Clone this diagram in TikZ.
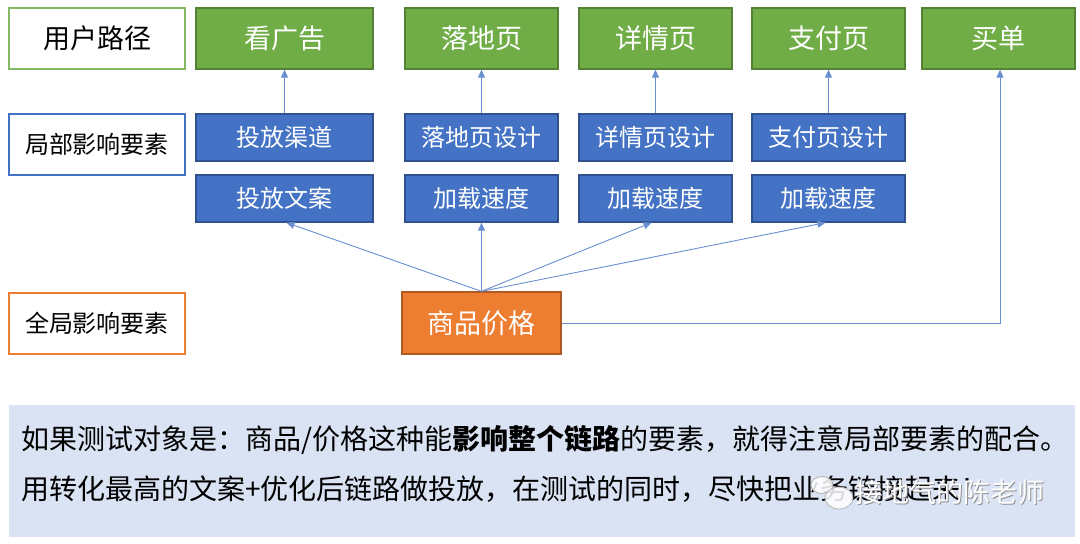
\documentclass[tikz,border=0pt]{standalone}
\usepackage{fontspec}
\setmainfont{Noto Sans CJK SC}
\usetikzlibrary{arrows.meta,shapes.geometric}
\definecolor{gfill}{HTML}{70AD47}
\definecolor{gline}{HTML}{548235}
\definecolor{bfill}{HTML}{4472C4}
\definecolor{bline}{HTML}{2F528F}
\definecolor{ofill}{HTML}{ED7D31}
\definecolor{oline}{HTML}{AE5A21}
\definecolor{conn}{HTML}{6A8FD0}
\definecolor{panel}{HTML}{DAE3F3}
\newcommand{\fsz}[1]{\fontsize{#1}{#1}\selectfont}
\tikzset{
  labelbox/.style={draw=#1, line width=1.3pt, fill=white, inner sep=0pt, minimum width=176pt, minimum height=61pt},
  greenbox/.style={draw=gline, fill=gfill, line width=1.3pt, inner sep=0pt, minimum height=61pt, text=white, font=\fsz{27}},
  bluebox/.style={draw=bline, fill=bfill, line width=1.3pt, inner sep=0pt, minimum height=47pt, minimum width=153pt, text=white, font=\fsz{24}},
  arr/.style={draw=conn, line width=0.9pt, -{Triangle[length=8pt,width=7pt]}},
  bubble/.style={fill=white, fill opacity=0.85, draw=gray!60, ellipse, inner sep=0pt, line width=0.8pt},
}
\begin{document}
\begin{tikzpicture}[x=1pt,y=-1pt]
\useasboundingbox (0,0) rectangle (1080,544);
% left labels
\node[labelbox=gfill!85!white, font=\fsz{27}] (lyh) at (97,38.5) {用户路径};
\node[labelbox=bfill, font=\fsz{24}] (ljb) at (97,144.5) {局部影响要素};
\node[labelbox=ofill, font=\fsz{24}] (lqj) at (97,323.5) {全局影响要素};
% user path
\node[greenbox, minimum width=177pt] (kgg) at (284.5,38.5) {看广告};
\node[greenbox, minimum width=153pt] (ldy) at (481.5,38.5) {落地页};
\node[greenbox, minimum width=153pt] (xqy) at (655.5,38.5) {详情页};
\node[greenbox, minimum width=153pt] (zfy) at (828.5,38.5) {支付页};
\node[greenbox, minimum width=153pt] (md) at (998.5,38.5) {买单};
% local factors
\node[bluebox, minimum width=177pt] (qd) at (284.5,137.5) {投放渠道};
\node[bluebox] (ldsj) at (481.5,137.5) {落地页设计};
\node[bluebox] (xqsj) at (655.5,137.5) {详情页设计};
\node[bluebox] (zfsj) at (828.5,137.5) {支付页设计};
\node[bluebox, minimum width=177pt] (wa) at (284.5,198.5) {投放文案};
\node[bluebox] (sd1) at (481.5,198.5) {加载速度};
\node[bluebox] (sd2) at (655.5,198.5) {加载速度};
\node[bluebox] (sd3) at (828.5,198.5) {加载速度};
% global
\node[draw=oline, fill=ofill, line width=1.3pt, inner sep=0pt, minimum width=159pt, minimum height=62pt, text=white, font=\fsz{27}] (sp) at (481.5,323) {商品价格};
% arrows
\draw[arr] (qd.north) -- (kgg.south);
\draw[arr] (ldsj.north) -- (ldy.south);
\draw[arr] (xqsj.north) -- (xqy.south);
\draw[arr] (zfsj.north) -- (zfy.south);
\draw[arr] (sp.north) -- ([xshift=2pt]wa.south);
\draw[arr] (sp.north) -- (sd1.south);
\draw[arr] (sp.north) -- ([xshift=-4pt]sd2.south);
\draw[arr] (sp.north) -- ([xshift=-3pt]sd3.south);
\draw[arr] (sp.east) -| ([xshift=1.5pt]md.south);
% bottom panel
\node[fill=panel, inner sep=0pt, minimum width=1066pt, minimum height=132pt] (panel) at (542,471) {};
\node[anchor=west, inner sep=0pt, font=\fsz{28}] (t1) at (21,440) {如果测试对象是：商品/价格这种能\textbf{影响整个链路}的要素，就得注意局部要素的配合。};
\node[anchor=west, inner sep=0pt, font=\fsz{28}] (t2) at (21,489) {用转化最高的文案+优化后链路做投放，在测试的同时，尽快把业务链接起来！};
% watermark
\node[bubble, minimum width=22pt, minimum height=17pt] (wb1) at (822,485) {};
\node[bubble, minimum width=28pt, minimum height=22pt] (wb2) at (839,498) {};
\node[anchor=west, inner sep=0pt, font=\fsz{27}, text=gray!85] (wm0) at (856.3,493.3) {接地气的陈老师};
\node[anchor=west, inner sep=0pt, font=\fsz{27}, text=white] (wm) at (855,492) {接地气的陈老师};
\end{tikzpicture}
\end{document}
